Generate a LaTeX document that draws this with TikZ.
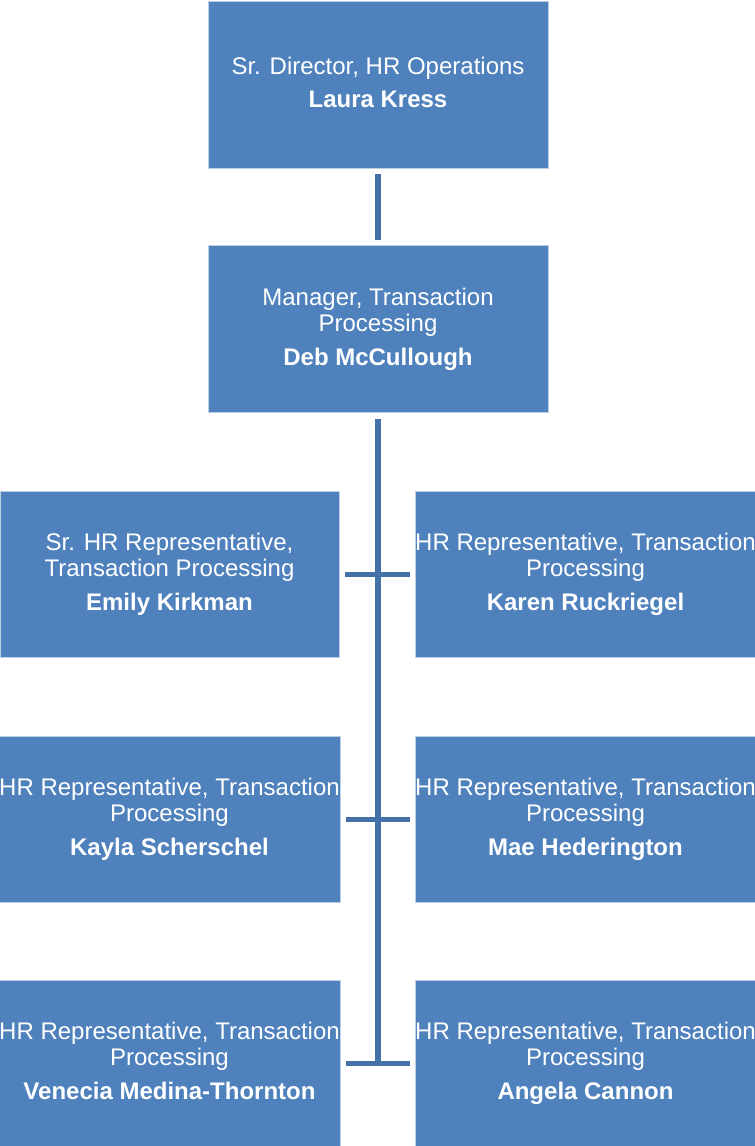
\documentclass[tikz,border=0pt]{standalone}
\usepackage{fontspec}
\setmainfont{Liberation Sans}
\definecolor{boxblue}{RGB}{79,129,189}
\definecolor{lineblue}{RGB}{68,114,168}
\definecolor{edgeblue}{RGB}{190,208,232}
\newcommand{\pname}[1]{\textbf{#1}\vphantom{g}}
\tikzset{
  orgbox/.style={rectangle, fill=boxblue, draw=edgeblue, line width=0.6pt,
    text=white, inner sep=0pt, align=center,
    font=\fontsize{24}{26}\selectfont},
  topbox/.style={orgbox, minimum width=340pt, minimum height=167pt},
  staffbox/.style={orgbox, minimum width=339pt, minimum height=166pt},
  trunk/.style={draw=lineblue, line width=6pt},
  branch/.style={draw=lineblue, line width=5pt}
}
\begin{document}
\begin{tikzpicture}[x=1pt,y=-1pt]
\useasboundingbox (0,0) rectangle (755,1146);
\node[topbox] (dir) at (378,84.5) {\raisebox{0pt}{}Sr. Director, HR Operations\\[7pt]\pname{Laura Kress}};
\node[topbox] (mgr) at (378,329) {Manager, Transaction\\Processing\\[8pt]\pname{Deb McCullough}};
\node[staffbox] (a) at (169.5,574) {Sr. HR Representative,\\Transaction Processing\\[8pt]\pname{Emily Kirkman}};
\node[staffbox] (b) at (585.5,574) {HR Representative, Transaction\\Processing\\[8pt]\pname{Karen Ruckriegel}};
\node[staffbox] (c) at (169.5,819) {HR Representative, Transaction\\Processing\\[8pt]\pname{Kayla Scherschel}};
\node[staffbox] (d) at (585.5,819) {HR Representative, Transaction\\Processing\\[8pt]\pname{Mae Hederington}};
\node[staffbox] (e) at (169.5,1063.5) {HR Representative, Transaction\\Processing\\[8pt]\pname{Venecia Medina-Thornton}};
\node[staffbox] (f) at (585.5,1063.5) {HR Representative, Transaction\\Processing\\[8pt]\pname{Angela Cannon}};
\coordinate (trunkend) at (378,1063.5);
\draw[trunk, shorten <=6pt, shorten >=5pt] (dir.south) -- (mgr.north);
\draw[trunk, shorten <=6pt] (mgr.south) -- (trunkend);
\draw[branch, shorten <=6pt, shorten >=5pt] (a.east) -- (b.west);
\draw[branch, shorten <=6pt, shorten >=5pt] (c.east) -- (d.west);
\draw[branch, shorten <=6pt, shorten >=5pt] (e.east) -- (f.west);
\end{tikzpicture}
\end{document}
